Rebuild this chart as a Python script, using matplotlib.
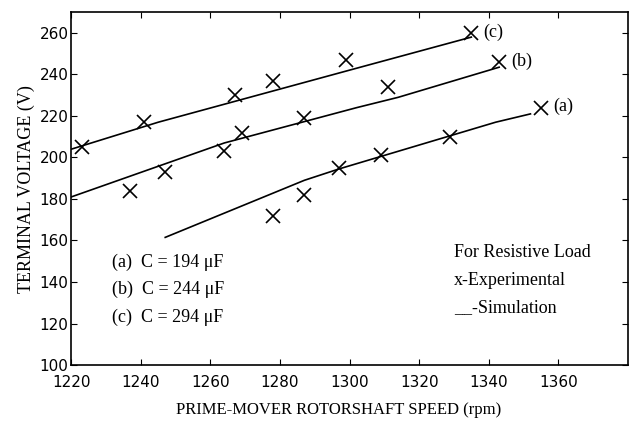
import matplotlib
matplotlib.use("Agg")
from matplotlib import pyplot as plt

# experimental points (rpm, V)
exp_a_speed = [1278, 1287, 1297, 1309, 1329, 1355]
exp_a_volt = [172, 182, 195, 201, 210, 224]
exp_b_speed = [1237, 1247, 1264, 1269, 1287, 1311, 1343]
exp_b_volt = [184, 193, 203, 212, 219, 234, 246]
exp_c_speed = [1223, 1241, 1267, 1278, 1299, 1335]
exp_c_volt = [205, 217, 230, 237, 247, 260]

# simulation curves
sim_a_speed = [1247, 1287, 1297, 1329, 1342, 1352]
sim_a_volt = [161.5, 189, 194.5, 210.5, 217, 221]
sim_b_speed = [1220, 1264, 1302, 1314, 1343]
sim_b_volt = [181, 207, 224, 229, 243.5]
sim_c_speed = [1220, 1245, 1302, 1335]
sim_c_volt = [204, 217, 243, 258]

labels = ["(a)", "(b)", "(c)"]
cap_text = ["(a)  C = 194 \u03bcF", "(b)  C = 244 \u03bcF", "(c)  C = 294 \u03bcF"]

serif = "Liberation Serif"
sans = "DejaVu Sans"

fig = plt.figure(figsize=(6.31, 4.21), dpi=100)
ax = fig.add_axes([0.113, 0.133, 0.882, 0.838])

for sx, sy in [(sim_a_speed, sim_a_volt), (sim_b_speed, sim_b_volt), (sim_c_speed, sim_c_volt)]:
    ax.plot(sx, sy, color="black", lw=1.2)
for ex, ey in [(exp_a_speed, exp_a_volt), (exp_b_speed, exp_b_volt), (exp_c_speed, exp_c_volt)]:
    ax.plot(ex, ey, "x", color="black", ms=10, mew=1.2)

# curve labels next to last points
ax.text(1358.5, 224.4, labels[0], fontsize=13, family=serif, va="center")
ax.text(1346.5, 246.5, labels[1], fontsize=13, family=serif, va="center")
ax.text(1338.5, 260.5, labels[2], fontsize=13, family=serif, va="center")

cap_y = [149.6, 136.5, 123]
for t, yy in zip(cap_text, cap_y):
    ax.text(1231.8, yy, t, fontsize=13, family=serif, va="center")

ax.text(1330, 154, "For Resistive Load", fontsize=13, family=serif, va="center")
ax.text(1330, 140.5, "x-Experimental", fontsize=13, family=serif, va="center")
ax.text(1330, 127.5, "__-Simulation", fontsize=13, family=serif, va="center")

ax.set_xlim(1220, 1380)
ax.set_ylim(100, 270)
ax.set_xticks(range(1220, 1361, 20))
ax.set_yticks(range(100, 261, 20))
ax.tick_params(direction="in", top=True, right=True, length=4, labelsize=11)
ax.tick_params(axis="x", pad=7)
ax.tick_params(axis="y", pad=2)
for lbl in ax.get_xticklabels() + ax.get_yticklabels():
    lbl.set_family(sans)
for s in ax.spines.values():
    s.set_linewidth(1.2)

ax.set_xlabel("PRIME-MOVER ROTORSHAFT SPEED (rpm)", family=serif, fontsize=12)
ax.xaxis.set_label_coords(0.48, -0.105)
ax.set_ylabel("TERMINAL VOLTAGE (V)", family=serif, fontsize=13, labelpad=3)

plt.savefig("out.png", dpi=100)
